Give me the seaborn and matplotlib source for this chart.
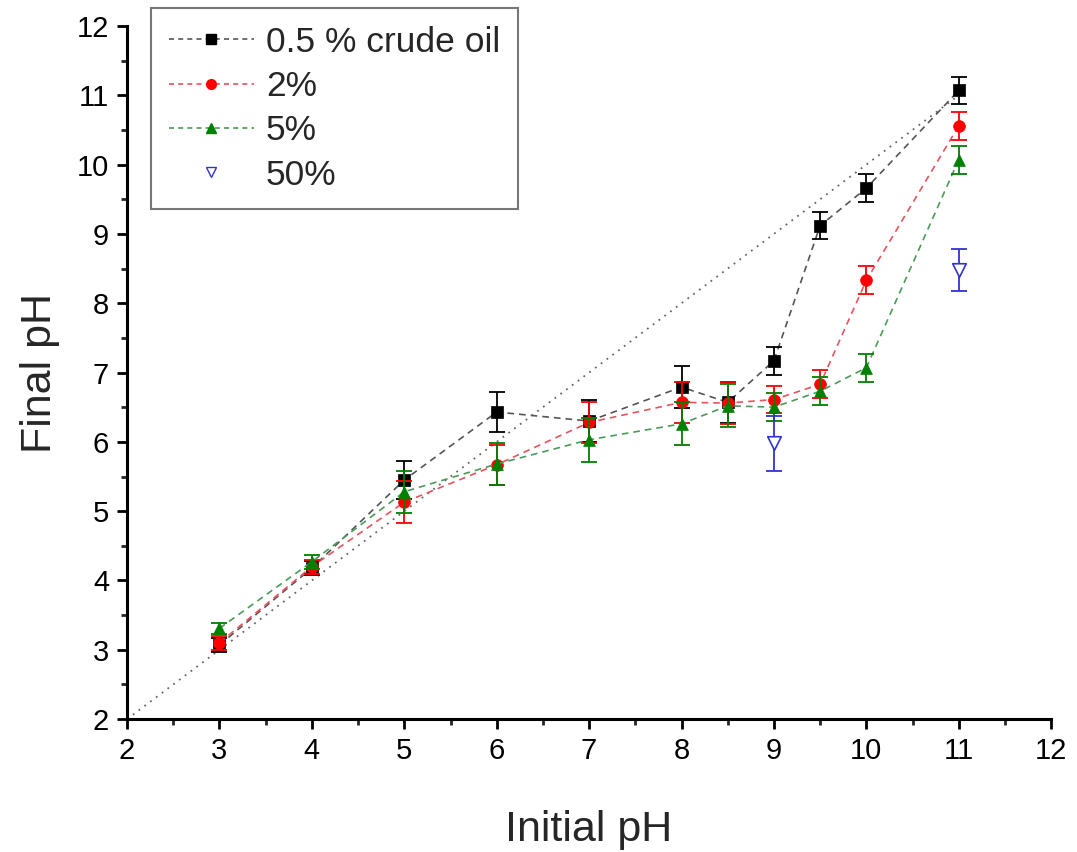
import numpy as np
import pandas as pd
import matplotlib
matplotlib.use("Agg")
import matplotlib.pyplot as plt
from matplotlib.lines import Line2D
from matplotlib.ticker import MultipleLocator
import seaborn as sns

# ---- data ----
x_main = [3, 4, 5, 6, 7, 8, 8.5, 9, 9.5, 10, 11]
y_05 = [3.07, 4.18, 5.45, 6.43, 6.30, 6.79, 6.57, 7.17, 9.12, 9.66, 11.07]
e_05 = [0.10, 0.10, 0.28, 0.29, 0.30, 0.30, 0.30, 0.20, 0.20, 0.20, 0.20]
y_2 = [3.10, 4.20, 5.13, 5.67, 6.28, 6.57, 6.56, 6.61, 6.83, 8.33, 10.56]
e_2 = [0.10, 0.10, 0.30, 0.29, 0.30, 0.30, 0.30, 0.20, 0.20, 0.20, 0.20]
y_5 = [3.31, 4.27, 5.28, 5.68, 6.03, 6.26, 6.52, 6.50, 6.73, 7.07, 10.07]
e_5 = [0.08, 0.10, 0.30, 0.30, 0.32, 0.31, 0.31, 0.20, 0.20, 0.20, 0.20]
x_50 = [9, 11]
y_50 = [5.98, 8.48]
e_50 = [0.40, 0.30]
ref_x = [2, 11]
ref_y = [2, 11]

labels = ["0.5 % crude oil", "2%", "5%", "50%"]
colors = ["#000000", "#FF0000", "#008000", "#3333CC"]
line_colors = ["#555555", "#E8535E", "#4C9A5A"]
markers = ["s", "o", "^", "v"]

sns.set_theme(style="ticks")
plt.rcParams["font.family"] = ["Liberation Sans", "DejaVu Sans"]

fig = plt.figure(figsize=(10.77, 8.52), dpi=100)
ax = fig.add_axes([0.118, 0.156, 0.858, 0.8135])

# identity reference line
sns.lineplot(x=ref_x, y=ref_y, ax=ax, color="#666666", linestyle=(0, (1, 3)),
             linewidth=1.3, zorder=1)

series = [(x_main, y_05, e_05), (x_main, y_2, e_2), (x_main, y_5, e_5)]
for i, (xs, ys, es) in enumerate(series):
    df = pd.DataFrame({"x": xs, "y": ys})
    sns.lineplot(data=df, x="x", y="y", ax=ax, color=line_colors[i],
                 linestyle=(0, (4, 3)), linewidth=1.2, zorder=2 + i)
    ax.errorbar(xs, ys, yerr=es, fmt="none", ecolor=colors[i], elinewidth=1.3,
                capsize=6, capthick=1.3, zorder=2 + i)
    sns.scatterplot(data=df, x="x", y="y", ax=ax, color=colors[i],
                    marker=markers[i], s=72, edgecolor=colors[i], linewidth=0.5,
                    zorder=3 + i)

ax.errorbar(x_50, y_50, yerr=e_50, fmt="none", ecolor=colors[3], elinewidth=1.3,
            capsize=6, capthick=1.3, zorder=6)
sns.scatterplot(x=x_50, y=y_50, ax=ax, marker="v", s=95, facecolor="white",
                edgecolor=colors[3], linewidth=1.2, zorder=7)

ax.set_xlim(2, 12)
ax.set_ylim(2, 12)
ax.xaxis.set_major_locator(MultipleLocator(1))
ax.yaxis.set_major_locator(MultipleLocator(1))
ax.xaxis.set_minor_locator(MultipleLocator(0.5))
ax.yaxis.set_minor_locator(MultipleLocator(0.5))
ax.tick_params(axis="both", which="major", direction="out", length=7, width=2,
               labelsize=21, colors="black", pad=6)
ax.tick_params(axis="both", which="minor", direction="out", length=4, width=2)
for side in ["top", "right"]:
    ax.spines[side].set_visible(False)
for side in ["left", "bottom"]:
    ax.spines[side].set_linewidth(2.2)
    ax.spines[side].set_color("black")

ax.set_xlabel("Initial pH", fontsize=31, labelpad=32)
ax.set_ylabel("Final pH", fontsize=31, labelpad=12)

handles = []
for i in range(3):
    handles.append(Line2D([0], [0], color=line_colors[i], linestyle=(0, (3, 2.5)),
                          linewidth=1.2, marker=markers[i], markersize=7,
                          markerfacecolor=colors[i], markeredgecolor=colors[i]))
handles.append(Line2D([0], [0], linestyle="none", marker="v", markersize=7,
                      markerfacecolor="white", markeredgecolor=colors[3]))
leg = fig.legend(handles, labels, loc="upper left",
                 bbox_to_anchor=(151 / 1077, 1 - 8 / 852), borderaxespad=0,
                 fontsize=25.5, frameon=True, fancybox=False, handlelength=2.4,
                 handletextpad=0.35, labelspacing=0.32, borderpad=0.5)
leg.get_frame().set_edgecolor("#555555")
leg.get_frame().set_linewidth(1.5)

fig.savefig("out.png", dpi=100, facecolor="white")
